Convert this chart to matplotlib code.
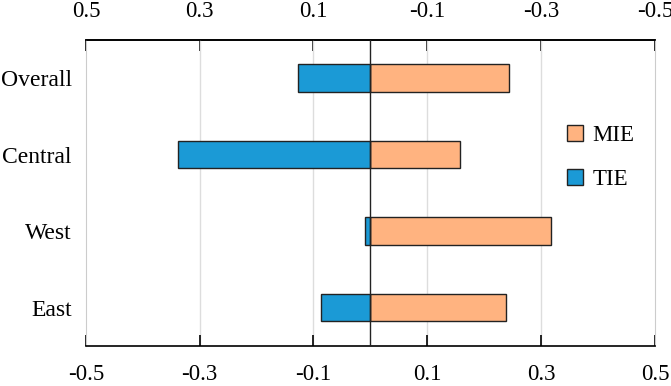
import numpy as np
import matplotlib.pyplot as plt

regions = ['Overall', 'Central', 'West', 'East']
mie = [0.243, 0.158, 0.317, 0.238]
tie = [-0.128, -0.338, -0.010, -0.087]
ticks = [-0.5, -0.3, -0.1, 0.1, 0.3, 0.5]

plt.rcParams['font.family'] = ['Liberation Serif', 'DejaVu Serif']
plt.rcParams['axes.unicode_minus'] = False

fig = plt.figure(figsize=(6.71, 3.86), dpi=100)
ax = fig.add_axes([0.128, 0.104, 0.848, 0.7925])

y = np.arange(len(regions))
ax.barh(y, mie, height=0.36, color='#FFB380', edgecolor='#222222', linewidth=1, label='MIE', zorder=3)
ax.barh(y, tie, height=0.36, color='#1B9AD6', edgecolor='#222222', linewidth=1, label='TIE', zorder=3)
ax.axvline(0, color='#222222', linewidth=1, zorder=4)

ax.set_xlim(-0.5, 0.5)
ax.set_ylim(3.5, -0.5)
ax.set_yticks(y)
ax.set_yticklabels(regions, fontsize=17)
ax.set_xticks(ticks)
ax.set_xticklabels([f'{t:.1f}' for t in ticks], fontsize=16.5)
for t in ticks[1:-1]:
    ax.axvline(t, color='#dddddd', linewidth=1, zorder=1)

ax.tick_params(axis='y', length=0, pad=10)
ax.tick_params(axis='x', direction='in', length=8, width=1.2, pad=13)
ax.spines['left'].set_color('#cccccc')
ax.spines['right'].set_color('#cccccc')
ax.spines['bottom'].set_linewidth(1.2)
ax.spines['top'].set_linewidth(1.2)

# top axis shows reversed values
top = ax.secondary_xaxis('top', functions=(lambda v: -v, lambda v: -v))
top.set_xticks(ticks)
top.set_xticklabels([f'{t:.1f}' for t in ticks], fontsize=16.5)
top.tick_params(direction='in', length=8, width=1.2, pad=13)
top.spines['top'].set_linewidth(1.2)

ax.legend(loc='center left', bbox_to_anchor=(0.81, 0.615), frameon=False, fontsize=16.5,
          handlelength=0.7, handleheight=0.7, labelspacing=1.0, handletextpad=0.4)

fig.savefig('out.png', dpi=100)
